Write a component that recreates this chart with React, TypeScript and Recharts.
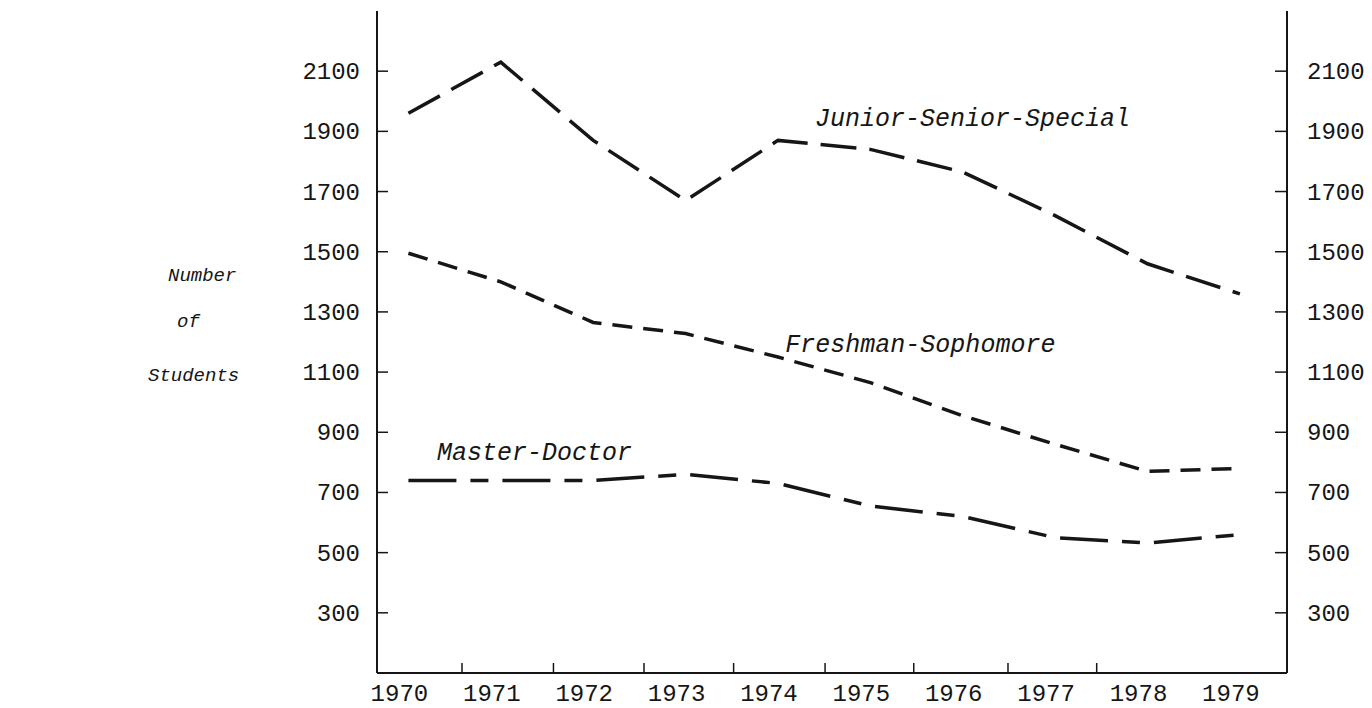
import * as React from 'react';
import { LineChart, Line, XAxis, YAxis, ReferenceDot } from 'recharts';

const years = [1970, 1971, 1972, 1973, 1974, 1975, 1976, 1977, 1978, 1979];
const juniorSeniorSpecial = [1960, 2130, 1870, 1670, 1870, 1840, 1765, 1620, 1460, 1360];
const freshmanSophomore = [1495, 1400, 1265, 1228, 1150, 1065, 955, 860, 770, 780];
const masterDoctor = [740, 740, 740, 760, 730, 655, 620, 550, 532, 560];

const yTicks = [300, 500, 700, 900, 1100, 1300, 1500, 1700, 1900, 2100];
// the typist put the small tick marks between the year labels, not under them
const bottomMarks = [1970.58, 1971.57, 1972.55, 1973.52, 1974.51, 1975.47, 1976.49, 1977.45];
const topMarks = [...bottomMarks, 1978.46];

const seriesLabels = [
  { text: 'Junior-Senior-Special', year: 1974.4, value: 1918 },
  { text: 'Freshman-Sophomore', year: 1974.08, value: 1167 },
  { text: 'Master-Doctor', year: 1970.31, value: 808 },
];
const axisTitle = ['Number', 'of', 'Students'];

const data = years.map((year, i) => ({
  year,
  jss: juniorSeniorSpecial[i],
  fs: freshmanSophomore[i],
  md: masterDoctor[i],
}));

const INK = '#161616';
const FONT = "'Liberation Mono', 'DejaVu Sans Mono', monospace";
const X_DOMAIN = [1969.66, 1979.51];
const Y_DOMAIN = [100, 2300];

function BottomTick({ x, y, payload }: any) {
  if (Number.isInteger(payload.value)) {
    return (
      <text x={x - 9} y={y + 28} textAnchor="middle" fontFamily={FONT} fontSize={24} fill={INK}>
        {payload.value}
      </text>
    );
  }
  return <line x1={x} x2={x} y1={y} y2={y - 10} stroke={INK} strokeWidth={1.5} />;
}

function TopTick({ x, y }: any) {
  return <line x1={x} x2={x} y1={y} y2={y + 12} stroke={INK} strokeWidth={2} />;
}

function LeftTick({ x, y, payload }: any) {
  return (
    <g>
      <line x1={x} x2={x + 11} y1={y} y2={y} stroke={INK} strokeWidth={1.5} />
      <text x={x - 17} y={y + 8} textAnchor="end" fontFamily={FONT} fontSize={24} fill={INK}>
        {payload.value}
      </text>
    </g>
  );
}

function RightTick({ x, y, payload }: any) {
  return (
    <g>
      <line x1={x} x2={x - 12} y1={y} y2={y} stroke={INK} strokeWidth={1.5} />
      <text x={x + 20} y={y + 8} textAnchor="start" fontFamily={FONT} fontSize={24} fill={INK}>
        {payload.value}
      </text>
    </g>
  );
}

function AxisTitle() {
  const pos = [
    { x: 160, y: 273 },
    { x: 169, y: 319 },
    { x: 140, y: 373 },
  ];
  return (
    <g>
      {axisTitle.map((t, i) => (
        <text key={t} x={pos[i].x} y={pos[i].y} fontFamily={FONT} fontStyle="italic" fontSize={19} fill={INK}>
          {t}
        </text>
      ))}
    </g>
  );
}

function SeriesLabel(text: string) {
  return (props: any) => {
    const vb = props.viewBox || {};
    return (
      <text x={vb.x} y={vb.y} fontFamily={FONT} fontStyle="italic" fontSize={25} fill={INK}>
        {text}
      </text>
    );
  };
}

export default function App() {
  return (
    <LineChart
      width={1356}
      height={700}
      data={data}
      margin={{ top: 3, right: 7, bottom: 0, left: 289 }}
    >
      <XAxis
        xAxisId="bottom"
        dataKey="year"
        type="number"
        domain={X_DOMAIN}
        ticks={[...years, ...bottomMarks]}
        interval={0}
        height={35}
        tickSize={0}
        tickMargin={0}
        tickLine={false}
        tick={BottomTick}
        axisLine={{ stroke: INK, strokeWidth: 2 }}
        allowDataOverflow
      />
      <XAxis
        xAxisId="top"
        orientation="top"
        dataKey="year"
        type="number"
        domain={X_DOMAIN}
        ticks={topMarks}
        interval={0}
        height={0}
        tickSize={0}
        tickMargin={0}
        tickLine={false}
        tick={TopTick}
        axisLine={{ stroke: INK, strokeWidth: 2 }}
        allowDataOverflow
      />
      <YAxis
        yAxisId="left"
        type="number"
        domain={Y_DOMAIN}
        ticks={yTicks}
        interval={0}
        width={80}
        tickSize={0}
        tickMargin={0}
        tickLine={false}
        tick={LeftTick}
        axisLine={{ stroke: INK, strokeWidth: 2 }}
        label={() => <AxisTitle />}
        allowDataOverflow
      />
      <YAxis
        yAxisId="right"
        orientation="right"
        type="number"
        domain={Y_DOMAIN}
        ticks={yTicks}
        interval={0}
        width={70}
        tickSize={0}
        tickMargin={0}
        tickLine={false}
        tick={RightTick}
        axisLine={{ stroke: INK, strokeWidth: 2 }}
        allowDataOverflow
      />
      <Line
        xAxisId="bottom"
        yAxisId="left"
        type="linear"
        dataKey="jss"
        stroke={INK}
        strokeWidth={3.5}
        strokeDasharray="36 13"
        dot={false}
        activeDot={false}
        isAnimationActive={false}
      />
      <Line
        xAxisId="bottom"
        yAxisId="left"
        type="linear"
        dataKey="fs"
        stroke={INK}
        strokeWidth={3.5}
        strokeDasharray="20 11"
        dot={false}
        activeDot={false}
        isAnimationActive={false}
      />
      <Line
        xAxisId="bottom"
        yAxisId="left"
        type="linear"
        dataKey="md"
        stroke={INK}
        strokeWidth={3.5}
        strokeDasharray="48 14 18 14"
        dot={false}
        activeDot={false}
        isAnimationActive={false}
      />
      {seriesLabels.map((s) => (
        <ReferenceDot
          key={s.text}
          xAxisId="bottom"
          yAxisId="left"
          x={s.year}
          y={s.value}
          r={0}
          fill="none"
          stroke="none"
          ifOverflow="visible"
          label={SeriesLabel(s.text)}
        />
      ))}
    </LineChart>
  );
}
